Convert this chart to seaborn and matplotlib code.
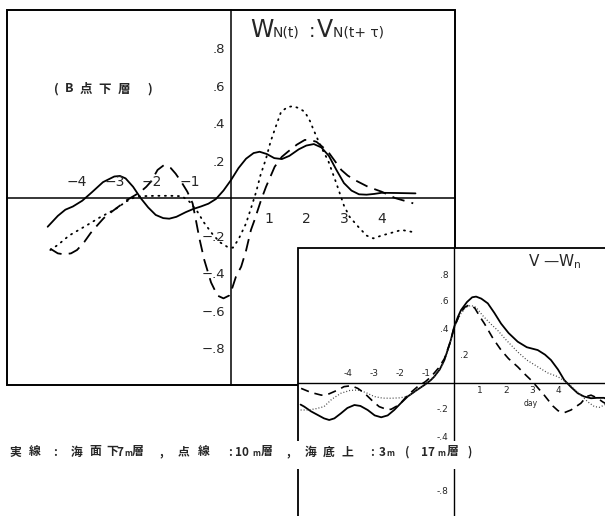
import matplotlib
matplotlib.use("Agg")
import matplotlib.pyplot as plt
from matplotlib.patches import Rectangle
import seaborn as sns

# ---------------- data ----------------
# main panel  W_N(t) : V_N(t+tau)  (B point, lower layer)
main_solid_x = [-4.87, -4.6, -4.4, -4.2, -3.95, -3.7, -3.4, -3.1, -2.95, -2.8, -2.6, -2.4, -2.2, -2.0,
                -1.8, -1.64, -1.45, -1.2, -1.0, -0.8, -0.6, -0.4, -0.2, 0.0, 0.2, 0.4, 0.6, 0.76, 0.95,
                1.15, 1.35, 1.55, 1.8, 2.0, 2.2, 2.4, 2.6, 2.8, 3.0, 3.2, 3.4, 3.6, 3.8, 4.0, 4.4, 4.9]
main_solid_y = [-0.153, -0.095, -0.062, -0.045, -0.014, 0.03, 0.085, 0.115, 0.118, 0.105, 0.06, 0.0,
                -0.05, -0.09, -0.107, -0.11, -0.1, -0.075, -0.058, -0.045, -0.03, -0.005, 0.04, 0.096,
                0.16, 0.21, 0.24, 0.247, 0.235, 0.213, 0.208, 0.225, 0.26, 0.28, 0.288, 0.27, 0.225,
                0.15, 0.08, 0.04, 0.02, 0.018, 0.022, 0.028, 0.027, 0.025]

main_dot_x = [-4.8, -4.6, -4.3, -3.82, -3.5, -3.2, -3.0, -2.8, -2.6, -2.4, -2.0, -1.6, -1.3, -1.1, -0.9,
              -0.72, -0.5, -0.3, -0.1, 0.05, 0.2, 0.4, 0.53, 0.67, 0.78, 0.93, 1.05, 1.17, 1.33, 1.5,
              1.64, 1.8, 1.96, 2.1, 2.18, 2.31, 2.45, 2.58, 2.8, 3.0, 3.15, 3.38, 3.6, 3.78, 4.0, 4.18,
              4.53, 4.8]
main_dot_y = [-0.277, -0.25, -0.2, -0.144, -0.105, -0.073, -0.05, -0.02, 0.0, 0.01, 0.012, 0.012, 0.01,
              -0.02, -0.07, -0.13, -0.19, -0.235, -0.26, -0.265, -0.22, -0.135, -0.055, 0.034, 0.12,
              0.21, 0.30, 0.37, 0.46, 0.485, 0.49, 0.48, 0.46, 0.41, 0.37, 0.31, 0.25, 0.2, 0.078,
              -0.04, -0.1, -0.153, -0.2, -0.215, -0.2, -0.19, -0.17, -0.18]

main_dash_x = [-4.8, -4.6, -4.44, -4.25, -4.09, -3.9, -3.73, -3.55, -3.38, -3.15, -2.93, -2.76, -2.55,
               -2.4, -2.25, -2.13, -1.95, -1.78, -1.6, -1.47, -1.3, -1.16, -1.02, -0.93, -0.84, -0.71,
               -0.53, -0.36, -0.2, -0.05, 0.0, 0.13, 0.27, 0.4, 0.53, 0.62, 0.8, 0.93, 1.16, 1.35,
               1.51, 1.75, 1.96, 2.1, 2.27, 2.45, 2.58, 2.75, 2.93, 3.1, 3.29, 3.64, 4.0, 4.36, 4.84]
main_dash_y = [-0.27, -0.295, -0.30, -0.295, -0.277, -0.235, -0.187, -0.145, -0.107, -0.07, -0.037,
               -0.01, 0.015, 0.034, 0.06, 0.087, 0.15, 0.176, 0.16, 0.13, 0.08, 0.034, -0.028, -0.12,
               -0.215, -0.33, -0.45, -0.52, -0.535, -0.52, -0.5, -0.42, -0.366, -0.28, -0.17, -0.12,
               -0.01, 0.06, 0.167, 0.22, 0.247, 0.285, 0.31, 0.31, 0.30, 0.27, 0.247, 0.2, 0.15, 0.12,
               0.096, 0.06, 0.034, 0.0, -0.028]

# inset panel  V - W_n
ins_solid_x = [-5.9, -5.76, -5.5, -5.24, -5.0, -4.8, -4.6, -4.35, -4.1, -3.83, -3.6, -3.32, -3.05, -2.8,
               -2.55, -2.3, -2.05, -1.78, -1.45, -1.14, -0.9, -0.76, -0.55, -0.37, -0.2, -0.12, 0.01,
               0.15, 0.27, 0.5, 0.7, 0.85, 1.05, 1.3, 1.55, 1.81, 2.1, 2.45, 2.8, 3.22, 3.5, 3.73, 4.0,
               4.24, 4.5, 4.76, 5.0, 5.27, 5.5, 5.77, 6.0]
ins_solid_y = [-0.16, -0.175, -0.21, -0.237, -0.262, -0.274, -0.262, -0.225, -0.185, -0.163, -0.17,
               -0.2, -0.24, -0.254, -0.24, -0.2, -0.15, -0.1, -0.055, -0.015, 0.02, 0.047, 0.1, 0.17,
               0.27, 0.32, 0.417, 0.49, 0.54, 0.6, 0.635, 0.64, 0.625, 0.59, 0.52, 0.44, 0.37, 0.306,
               0.265, 0.244, 0.21, 0.17, 0.1, 0.022, -0.03, -0.076, -0.1, -0.113, -0.11, -0.11, -0.13]

ins_dash_x = [-5.88, -5.5, -5.1, -4.8, -4.47, -4.23, -3.95, -3.7, -3.45, -3.15, -2.88, -2.6, -2.42, -2.1,
              -1.78, -1.4, -1.1, -0.88, -0.6, -0.37, -0.15, 0.0, 0.2, 0.4, 0.6, 0.8, 1.0, 1.17, 1.5,
              1.81, 2.1, 2.45, 2.7, 2.96, 3.2, 3.47, 3.8, 4.0, 4.24, 4.5, 4.88, 5.1, 5.27, 5.5, 5.72, 6.0]
ins_dash_y = [-0.04, -0.07, -0.09, -0.08, -0.052, -0.027, -0.02, -0.04, -0.074, -0.13, -0.175, -0.195,
              -0.195, -0.16, -0.09, -0.027, 0.01, 0.047, 0.11, 0.18, 0.3, 0.41, 0.5, 0.56, 0.58, 0.555,
              0.49, 0.44, 0.33, 0.244, 0.18, 0.12, 0.07, 0.022, -0.03, -0.09, -0.17, -0.205, -0.22,
              -0.2, -0.15, -0.1, -0.09, -0.11, -0.14, -0.17]

ins_dot_x = [-5.9, -5.6, -5.3, -5.0, -4.7, -4.35, -4.0, -3.7, -3.4, -3.07, -2.75, -2.42, -2.1, -1.78,
             -1.4, -1.1, -0.76, -0.5, -0.3, -0.1, 0.05, 0.25, 0.45, 0.65, 0.85, 1.1, 1.4, 1.68, 2.0,
             2.45, 2.8, 3.22, 3.6, 3.99, 4.37, 4.6, 4.88, 5.15, 5.4, 5.6, 5.78, 6.0]
ins_dot_y = [-0.2, -0.2, -0.19, -0.175, -0.12, -0.076, -0.055, -0.052, -0.07, -0.1, -0.112, -0.113,
             -0.11, -0.1, -0.05, -0.01, 0.05, 0.11, 0.2, 0.33, 0.43, 0.51, 0.56, 0.575, 0.56, 0.5,
             0.44, 0.39, 0.32, 0.23, 0.17, 0.12, 0.075, 0.047, 0.0, -0.04, -0.09, -0.14, -0.175, -0.18,
             -0.163, -0.14]

main_xticks = [-5, -4, -3, -2, -1, 1, 2, 3, 4, 5]
main_neg_labels = {-4: "−4", -3: "−3", -2: "−2", -1: "−1"}
main_pos_labels = {1: "1", 2: "2", 3: "3", 4: "4"}
main_yticks = [-0.8, -0.6, -0.4, -0.2, 0.2, 0.4, 0.6, 0.8]
main_ylabels = ["−.8", "−.6", "−.4", "−.2", ".2", ".4", ".6", ".8"]

ins_xticks = [-5, -4, -3, -2, -1, 1, 2, 3, 4, 5]
ins_neg_labels = {-4: "-4", -3: "-3", -2: "-2", -1: "-1"}
ins_pos_labels = {1: "1", 2: "2", 3: "3", 4: "4"}
ins_yticks = [-0.8, -0.6, -0.4, -0.2, 0.2, 0.4, 0.6, 0.8]
ins_ylabels_left = {0.8: ".8", 0.6: ".6", 0.4: ".4", -0.2: "-.2", -0.4: "-.4", -0.8: "-.8"}
ins_ylabels_right = {0.2: ".2"}

# caption: 実線：海面下7m層，点線：10m層，海底上：3m（17m層）
caption_tokens = ["実", "線", ":", "海", "面", "下", "7", "m", "層", ",", "点", "線", ":", "10", "m",
                  "層", ",", "海", "底", "上", ":", "3", "m", "(", "17", "m", "層", ")"]
caption_px = [15, 35, 55, 77, 95, 112, 120, 128, 138, 161, 184, 204, 230, 242, 256,
              267, 288, 311, 329, 347, 372, 382, 390, 407, 428, 441, 453, 470]
# subtitle: (B点下層)
subtitle_tokens = ["(", "B", "点", "下", "層", ")"]
subtitle_px = [56, 69, 86, 105, 124, 150]

# title pieces: W_N(t):V_N(t+ tau)
title_tokens = ["W", "N(t)", ":", "V", "N(t+ τ)"]
title_px = [250, 273, 309, 317, 333]
title_sizes = [17, 10, 14, 17, 10]

# ---------------- figure ----------------
sns.set_style("white")
plt.rcParams['font.family'] = ['DejaVu Sans', 'Noto Sans CJK JP']
W, H = 605, 516
fig = plt.figure(figsize=(W / 100, H / 100), dpi=100)
fig.patch.set_facecolor("white")
CJK = ['Noto Sans CJK JP', 'DejaVu Sans']


def fx(px):
    return px / W


def fy(py):
    return 1 - py / H


def setup_cross(ax, lw):
    for s in ['top', 'right']:
        ax.spines[s].set_visible(False)
    ax.spines['left'].set_position(('data', 0))
    ax.spines['bottom'].set_position(('data', 0))
    ax.spines['left'].set_linewidth(lw)
    ax.spines['bottom'].set_linewidth(lw)
    ax.spines['left'].set_color('black')
    ax.spines['bottom'].set_color('black')
    ax.add_patch(Rectangle((0, 0), 1, 1, transform=ax.transAxes, fill=False,
                           lw=lw + 0.3, edgecolor='black', clip_on=False, zorder=5))
    ax.set_xlabel("")
    ax.set_ylabel("")


# main axes
ax = fig.add_axes([fx(7), fy(385), 448 / W, 375 / H])
ax.set_facecolor('white')
sns.lineplot(x=main_solid_x, y=main_solid_y, ax=ax, color='black', lw=1.3, estimator=None)
sns.lineplot(x=main_dot_x, y=main_dot_y, ax=ax, color='black', lw=1.3, estimator=None,
             linestyle=(0, (0.6, 3.0)), dash_capstyle='round')
sns.lineplot(x=main_dash_x, y=main_dash_y, ax=ax, color='black', lw=1.3, estimator=None,
             linestyle=(0, (7, 4)))
ax.set_xlim(-5.95, 5.95)
ax.set_ylim(-0.997, 1.003)
setup_cross(ax, 1.1)
ax.set_xticks(main_xticks)
ax.tick_params(axis='x', direction='inout', length=10, width=1.1, labelbottom=False)
ax.set_yticks(main_yticks)
ax.set_yticklabels(main_ylabels)
ax.tick_params(axis='y', direction='in', length=6, width=1.1, pad=4, labelsize=9.5)
for k, t in main_neg_labels.items():
    ax.text(k + 0.17, 0.05, t, ha='right', va='bottom', fontsize=10)
for k, t in main_pos_labels.items():
    ax.text(k, -0.075, t, ha='center', va='top', fontsize=10)

for tok, px, fs in zip(title_tokens, title_px, title_sizes):
    fig.text(fx(px), fy(37), tok, fontsize=fs, ha='left', va='baseline')

for tok, px in zip(subtitle_tokens, subtitle_px):
    fig.text(fx(px), fy(89), tok, fontsize=9, ha='center', va='center', family=CJK,
             fontweight='bold')

# inset axes
ax2 = fig.add_axes([fx(298), fy(518), 312 / W, 270 / H])
ax2.set_facecolor('white')
sns.lineplot(x=ins_solid_x, y=ins_solid_y, ax=ax2, color='black', lw=1.3, estimator=None)
sns.lineplot(x=ins_dot_x, y=ins_dot_y, ax=ax2, color='#444444', lw=0.9, estimator=None,
             linestyle=(0, (0.8, 1.6)))
sns.lineplot(x=ins_dash_x, y=ins_dash_y, ax=ax2, color='black', lw=1.2, estimator=None,
             linestyle=(0, (5, 3.5)))
ax2.set_xlim(-6, 6)
ax2.set_ylim(-1, 1)
setup_cross(ax2, 1.0)
ax2.set_xticks(ins_xticks)
ax2.tick_params(axis='x', direction='inout', length=7, width=1.0, labelbottom=False)
ax2.set_yticks(ins_yticks)
ax2.tick_params(axis='y', direction='inout', length=8.5, width=1.0, labelleft=False)
for k, t in ins_neg_labels.items():
    ax2.text(k + 0.1, 0.035, t, ha='right', va='bottom', fontsize=6.5)
for k, t in ins_pos_labels.items():
    ax2.text(k, -0.025, t, ha='center', va='top', fontsize=6.5)
ax2.text(2.95, -0.15, "day", ha='center', va='center', fontsize=5.5)
for k, t in ins_ylabels_left.items():
    ax2.text(-0.2, k, t, ha='right', va='center', fontsize=6.5)
for k, t in ins_ylabels_right.items():
    ax2.text(0.22, k, t, ha='left', va='center', fontsize=6.5)

fig.text(fx(528), fy(262), r"V —W$_{\mathregular{n}}$", fontsize=11, ha='left', va='center')

# caption with white band
fig.add_artist(Rectangle((fx(292), fy(469)), (485 - 292) / W, 28 / H, transform=fig.transFigure,
                         facecolor='white', edgecolor='none', zorder=2))
for tok, px in zip(caption_tokens, caption_px):
    small = tok == "m"
    fig.text(fx(px), fy(453 if small else 452), tok, fontsize=6 if small else 8.5,
             ha='center', va='center', family=CJK, fontweight='bold', zorder=3)

fig.savefig("out.png", dpi=100)
